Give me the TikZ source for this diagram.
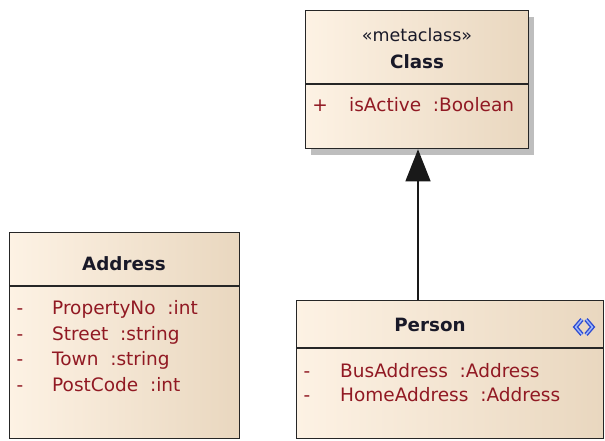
\documentclass[tikz,border=0pt]{standalone}
\usepackage{fontspec}
\setmainfont{DejaVu Sans}
\usetikzlibrary{arrows.meta,shadows}
\definecolor{boxleft}{RGB}{253,242,228}
\definecolor{boxmid}{RGB}{250,238,222}
\definecolor{boxright}{RGB}{233,215,191}
\definecolor{attrred}{RGB}{145,25,35}
\definecolor{titlecol}{RGB}{25,25,40}
\definecolor{iconblue}{RGB}{45,75,210}
\definecolor{iconlight}{RGB}{160,185,250}
\definecolor{shadowgray}{RGB}{190,190,190}
\tikzset{
  umlbox/.style={draw=black!85, line width=1.3pt, rectangle, anchor=north west,
    left color=boxleft, middle color=boxmid, right color=boxright, inner sep=0pt},
  withshadow/.style={drop shadow={shadow xshift=5pt, shadow yshift=-6pt, fill=shadowgray, opacity=1}},
  divider/.style={draw=black!85, line width=1.3pt},
  basetext/.style={inner sep=0pt, text height=13pt, text depth=0pt},
  titletext/.style={basetext, font=\fontsize{18.3}{22}\selectfont\bfseries, text=titlecol},
  stereotext/.style={basetext, font=\fontsize{17.5}{21}\selectfont, text=titlecol},
  attrtext/.style={basetext, font=\fontsize{18.5}{22}\selectfont, text=attrred, anchor=west},
  vistext/.style={basetext, font=\fontsize{18.5}{22}\selectfont, text=attrred},
  gen/.style={draw=black!90, line width=1.3pt, -{Triangle[width=25pt,length=32pt]}},
}
\begin{document}
\begin{tikzpicture}[x=1pt,y=-1pt]
\useasboundingbox (0,0) rectangle (605,441);
% Class
\node[umlbox, withshadow, minimum width=223pt, minimum height=138pt] (cls) at (305,10) {};
\draw[divider] (cls.west |- 0,84) coordinate (clsdl) -- (cls.east |- 0,84) coordinate (clsdr);
\node[stereotext] (clsst) at (417,35) {«metaclass»};
\node[titletext] (clsname) at (417,62) {Class};
\node[vistext] (clsv1) at (320,105) {+};
\node[attrtext] (clsa1) at (349,105) {isActive~~:Boolean};
% Address
\node[umlbox, minimum width=230pt, minimum height=206pt] (addr) at (9,232) {};
\draw[divider] (addr.west |- 0,286) coordinate (addrdl) -- (addr.east |- 0,286) coordinate (addrdr);
\node[titletext] (addrname) at (124,264) {Address};
\node[vistext] (addrv1) at (20,308) {-};
\node[vistext] (addrv2) at (20,334) {-};
\node[vistext] (addrv3) at (20,359) {-};
\node[vistext] (addrv4) at (20,385) {-};
\node[attrtext] (addra1) at (52,308) {PropertyNo~~:int};
\node[attrtext] (addra2) at (52,334) {Street~~:string};
\node[attrtext] (addra3) at (52,359) {Town~~:string};
\node[attrtext] (addra4) at (52,385) {PostCode~~:int};
% Person
\node[umlbox, minimum width=307pt, minimum height=138pt] (per) at (296,300) {};
\draw[divider] (per.west |- 0,348) coordinate (perdl) -- (per.east |- 0,348) coordinate (perdr);
\node[titletext] (pername) at (430,325) {Person};
\node[vistext] (perv1) at (307,371) {-};
\node[vistext] (perv2) at (307,395) {-};
\node[attrtext] (pera1) at (340,371) {BusAddress~~:Address};
\node[attrtext] (pera2) at (340,395) {HomeAddress~~:Address};
% interface icon
\coordinate (icon) at (584,327);
\foreach \w/\c in {4.2pt/iconblue,1.4pt/iconlight}{
  \draw[line width=\w, draw=\c, line cap=butt, line join=miter]
    ([xshift=-2pt,yshift=7.5pt]icon) -- ([xshift=-8.5pt]icon) -- ([xshift=-2pt,yshift=-7.5pt]icon);
  \draw[line width=\w, draw=\c, line cap=butt, line join=miter]
    ([xshift=2pt,yshift=7.5pt]icon) -- ([xshift=8.5pt]icon) -- ([xshift=2pt,yshift=-7.5pt]icon);
}
% generalization
\coordinate (genx) at (418,0);
\draw[gen] (per.north -| genx) -- (cls.south -| genx);
\end{tikzpicture}
\end{document}
